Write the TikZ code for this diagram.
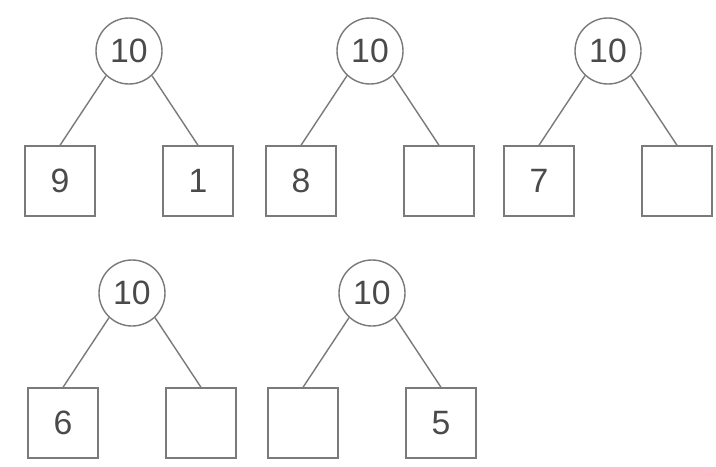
\documentclass[tikz,border=0pt]{standalone}
\usepackage{fontspec}
\setmainfont{Liberation Sans}
\tikzset{
  numcircle/.style={draw=linegray, line width=1pt, circle, minimum size=1.65cm, inner sep=0pt, text=textgray},
  numbox/.style={draw=linegray, line width=1pt, rectangle, minimum size=1.75cm, inner sep=0pt, text=textgray},
  pics/bond/.style 2 args={code={%

      % whole on top, parts below
      \node [numcircle] (-top) at (0,0) {10};
      \node [numbox] (-left) at (-1.725,-3.25) {#1};
      \node [numbox] (-right) at (1.725,-3.25) {#2};

      % connect them
      \draw [linegray, line width=1pt] (-top.-133) -- (-left.north);
      \draw [linegray, line width=1pt] (-top.-47) -- (-right.north);

}}}
\definecolor{linegray}{HTML}{7A7A7A}
\definecolor{textgray}{HTML}{4A4A4A}
\begin{document}
\begin{tikzpicture}[font=\fontsize{24}{28}\selectfont]
    \fill [white] (0,0) rectangle (17.9,11.65);
    \useasboundingbox (0,0) rectangle (17.9,11.65);
    % first row
    \pic (a) at (3.225,10.375) {bond={9}{1}};
    \pic (b) at (9.25,10.375) {bond={8}{}};
    \pic (c) at (15.2,10.375) {bond={7}{}};
    % second row
    \pic (d) at (3.3,4.325) {bond={6}{}};
    \pic (e) at (9.3,4.325) {bond={}{5}};
\end{tikzpicture}
\end{document}
